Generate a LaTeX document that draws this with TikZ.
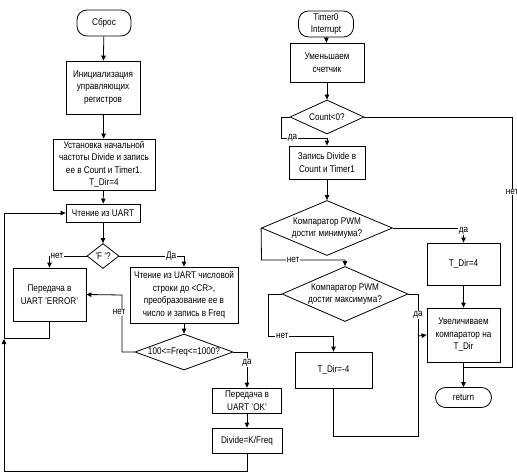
\documentclass[tikz,border=0pt]{standalone}
\usepackage{fontspec}
\setmainfont{Liberation Sans}[FakeStretch=0.84]
\usetikzlibrary{arrows.meta,shapes.geometric}
\begin{document}
\begin{tikzpicture}[x=1pt,y=-1pt,
  every node/.style={font=\fontsize{9.7}{12.5}\selectfont},
  box/.style={draw,line width=0.8pt,rectangle,align=center,inner sep=1pt},
  term/.style={draw,line width=0.8pt,rectangle,rounded corners=10pt,align=center,inner sep=1pt},
  dia/.style={draw,line width=0.8pt,diamond,inner sep=0pt},
  txt/.style={align=center,inner sep=0pt},
  lab/.style={fill=white,inner sep=0.8pt},
  conn/.style={line width=0.8pt},
  arr/.style={line width=0.8pt,-{Triangle[length=5pt,width=4.5pt]}}]
\useasboundingbox (0,0) rectangle (517,476);
% left column
\node[term,minimum width=54pt,minimum height=26pt] (start) at (104,23) {Сброс};
\node[box,minimum width=74pt,minimum height=53pt] (init) at (103,87.5) {Инициализация\\управляющих\\регистров};
\node[box,minimum width=102pt,minimum height=51pt] (setf) at (104,164.5) {Установка начальной\\частоты Divide и запись\\ее в Count и Timer1.\\T\_Dir=4};
\node[box,minimum width=74pt,minimum height=18pt] (read) at (103,213) {Чтение из UART};
\node[dia,minimum width=32pt,minimum height=25pt] (fdec) at (103,256) {};
\node[txt] (fdect) at (fdec) {'F '?};
\node[box,minimum width=73pt,minimum height=53pt] (err) at (49.5,294.5) {Передача в\\UART 'ERROR'};
\node[box,minimum width=108pt,minimum height=56pt] (rnum) at (184,295) {Чтение из UART числовой\\строки до <CR>,\\преобразование ее в\\число и запись в Freq};
\node[dia,minimum width=98pt,minimum height=36pt] (fdec2) at (184,352) {};
\node[txt] (fdec2t) at (fdec2) {100<=Freq<=1000?};
\node[box,minimum width=69pt,minimum height=25pt] (ok) at (247,400.5) {Передача в\\UART 'OK'};
\node[box,minimum width=70pt,minimum height=25pt] (div) at (247,440.5) {Divide=K/Freq};
\coordinate (loopA) at (4,339);
\coordinate (loopB) at (4,213);

\draw[arr] (start) -- (init);
\draw[arr] (init) -- (setf);
\draw[arr] (setf) -- (read);
\draw[arr] (read) -- (fdec);
\draw[arr] (fdec.west) -| node[lab,pos=0.4] {нет} (err.north);
\draw[arr] (fdec.east) -| node[lab,pos=0.4] {Да} (rnum.north);
\draw[arr] (rnum) -- (fdec2);
\draw[arr] (fdec2.west) -- (122,352) -- node[lab,pos=0.7,xshift=-3pt] {нет} (122,295) -- (err.east);
\draw[arr] (fdec2.east) -- (247,352) -- node[lab,pos=0.3] {да} (ok.north);
\draw[arr] (ok) -- (div);
\draw[arr] (div.south) -- (247,471) -- (4,471) -- (loopA);
\draw[conn] (err.south) -- (49.5,338) -- (4,338);
\draw[arr] (loopA) -- (loopB) -- (read.west);

% right column
\node[term,minimum width=55pt,minimum height=26pt] (timer) at (326,24) {Timer0\\Interrupt};
\node[box,minimum width=74pt,minimum height=39pt] (dec) at (327,62.5) {Уменьшаем\\счетчик};
\node[dia,minimum width=74pt,minimum height=34pt] (cnt) at (327,117) {};
\node[txt] (cntt) at (cnt) {Count<0?};
\node[box,minimum width=76pt,minimum height=33pt] (load) at (327,162.5) {Запись Divide в\\Count и Timer1};
\node[dia,minimum width=131pt,minimum height=55pt] (pmin) at (327,228) {};
\node[txt] (pmint) at (pmin) {Компаратор PWM\\достиг минимума?};
\node[dia,minimum width=126pt,minimum height=55pt] (pmax) at (345,294) {};
\node[txt] (pmaxt) at (pmax) {Компаратор PWM\\достиг максимума?};
\node[box,minimum width=77pt,minimum height=36pt] (tdm) at (333.5,370) {T\_Dir=-4};
\node[box,minimum width=73pt,minimum height=42pt] (tdp) at (463.5,264) {T\_Dir=4};
\node[box,minimum width=73pt,minimum height=54pt] (inc) at (463.5,335) {Увеличиваем\\компаратор на\\T\_Dir};
\node[term,minimum width=56pt,minimum height=20pt] (ret) at (463.5,397.5) {return};
\coordinate (join) at (463.5,367);

\draw[arr] (timer) -- (dec);
\draw[arr] (dec) -- (cnt);
\draw[arr] (cnt.west) -- (281,117) -- (281,138) -- node[lab,pos=0.25] {да} (327,138) -- (load.north);
\draw[conn] (cnt.east) -- (512,117) -- node[lab,pos=0.3] {нет} (512,367) -- (join);
\draw[arr] (load) -- (pmin);
\draw[arr] (pmin.east) -| node[lab,pos=0.6] {да} (tdp.north);
\draw[arr] (pmin.west) -- (261.5,260) -- node[lab,pos=0.38] {нет} (345,260) -- (pmax.north);
\draw[arr] (pmax.west) -- (268,294) -- (268,336) -- node[lab,pos=0.22] {нет} (333.5,336) -- (tdm.north);
\draw[conn] (pmax.east) -- (418,294) -- node[lab,pos=0.5] {да} (418,336);
\draw[conn] (tdm.south) -- (333.5,436) -- (418,436) -- (418,336);
\draw[arr] (418,336) -- (inc.west);
\draw[arr] (tdp) -- (inc);
\draw[arr] (inc) -- (ret);
\end{tikzpicture}
\end{document}
